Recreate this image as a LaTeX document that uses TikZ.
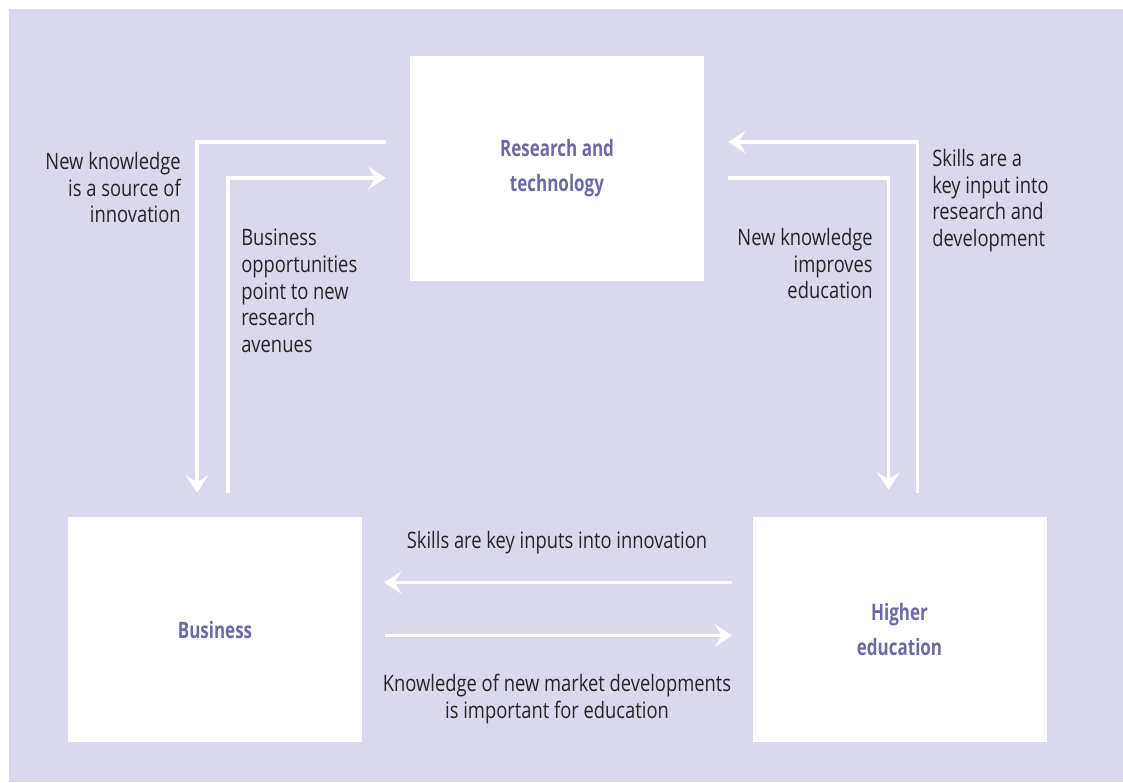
\documentclass[tikz,border=0pt]{standalone}
\usepackage{fontspec}
\setmainfont{Open Sans}[FakeStretch=0.81]
\newfontfamily\labelfont{Open Sans}[FakeStretch=0.75]
\usetikzlibrary{arrows.meta,calc}
\definecolor{lav}{HTML}{DAD8EC}
\definecolor{labcol}{HTML}{6D6AA3}
\definecolor{txt}{HTML}{262626}
\tikzset{
  x=0.75pt, y=-0.75pt,
  box/.style={draw=none, fill=white, minimum width=220.5pt, minimum height=168.75pt, inner sep=0pt,
    align=center, text=labcol, font=\labelfont\bfseries\fontsize{17}{26}\selectfont},
  note/.style={inner sep=0pt, text=txt, font=\fontsize{17}{20}\selectfont},
  flow/.style={draw=white, line width=2.4pt, line join=miter,
    -{Stealth[length=13pt, width=17pt, inset=5pt]}}
}
\begin{document}
\begin{tikzpicture}
\useasboundingbox (0,0) rectangle (1123,782);
\fill[white] (0,0) rectangle (1123,782);
\fill[lav] (9,9) rectangle (1123,782);

\node[box] (rt) at (557,168) {Research and\\technology};
\node[box] (bz) at (215,629.5) {Business};
\node[box] (he) at (899.5,629.5) {Higher\\education};

% left pair
\draw[flow] ($(rt.west)+(-24,-26)$) -| ($(bz.north)+(-18,-24)$);
\draw[flow] ($(bz.north)+(13,-24)$) |- ($(rt.west)+(-24,10)$);
% right pair
\draw[flow] ($(he.north)+(18,-24)$) |- ($(rt.east)+(24,-26)$);
\draw[flow] ($(rt.east)+(24,10)$) -| ($(he.north)+(-11,-27)$);
% bottom pair
\draw[flow] ($(he.west)+(-20,-47)$) -- ($(bz.east)+(22,-47)$);
\draw[flow] ($(bz.east)+(23,6)$) -- ($(he.west)+(-20,6)$);

\node[note, anchor=north east, align=right] (t1) at (181,152) {New knowledge\\is a source of\\innovation};
\node[note, anchor=north west, align=left] (t2) at (241,229) {Business\\opportunities\\point to new\\research\\avenues};
\node[note, anchor=north east, align=right] (t3) at (873,228) {New knowledge\\improves\\education};
\node[note, anchor=north west, align=left] (t4) at (932,149) {Skills are a\\key input into\\research and\\development};
\node[note, anchor=base] (t5) at (557,548) {Skills are key inputs into innovation};
\node[note, anchor=north, align=center] (t6) at (557,674) {Knowledge of new market developments\\is important for education};
\end{tikzpicture}
\end{document}
